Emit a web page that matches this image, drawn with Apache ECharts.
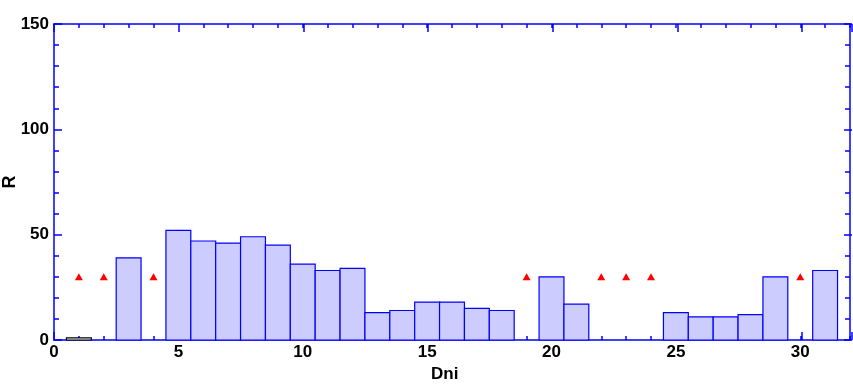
<!DOCTYPE html>
<html>
<head>
<meta charset="utf-8">
<script src="https://cdn.jsdelivr.net/npm/echarts@6/dist/echarts.min.js"></script>
<style>html,body{margin:0;padding:0;background:#fff}#c{width:853px;height:385px}</style>
</head>
<body>
<div id="c"></div>
<script>
// Data
var barX = [3, 5, 6, 7, 8, 9, 10, 11, 12, 13, 14, 15, 16, 17, 18, 20, 21, 25, 26, 27, 28, 29, 31];
var barY = [39, 52, 47, 46, 49, 45, 36, 33, 34, 13, 14, 18, 18, 15, 14, 30, 17, 13, 11, 11, 12, 30, 33];
var outlineX = [1];
var outlineY = [1];
var triX = [1, 2, 4, 19, 22, 23, 24, 30];
var triY = [30, 30, 30, 30, 30, 30, 30, 30];
var xTickLabels = [0, 5, 10, 15, 20, 25, 30];
var yTickLabels = [0, 50, 100, 150];

var BLUE = '#0000ff';
var FONT = 'Liberation Sans, Arial, sans-serif';
var FS = 17;

function pairs(xs, ys) { return xs.map(function (x, i) { return [x, ys[i]]; }); }

function barRender(fill, stroke) {
  return function (params, api) {
    var x = api.value(0), y = api.value(1);
    var p0 = api.coord([x - 0.5, 0]);
    var p1 = api.coord([x + 0.5, y]);
    return {
      type: 'rect',
      shape: { x: p0[0], y: p1[1], width: p1[0] - p0[0], height: p0[1] - p1[1] },
      style: { fill: fill, stroke: stroke, lineWidth: 1.2 }
    };
  };
}

function ax(type, gi, pos, interval, len, showLabel, showLine) {
  var isX = type === 'x';
  var labels = isX ? xTickLabels : yTickLabels;
  return {
    type: 'value', gridIndex: gi, position: pos, min: 0, max: isX ? 32 : 150, interval: interval,
    axisLine: { show: showLine, onZero: false, lineStyle: { color: BLUE, width: 1.5 } },
    axisTick: { show: true, inside: true, length: len, lineStyle: { color: BLUE, width: 1.5 } },
    axisLabel: {
      show: showLabel, margin: isX ? 4 : 5, color: '#000', fontFamily: FONT, fontWeight: 'bold', fontSize: FS,
      formatter: function (v) { return labels.indexOf(v) >= 0 ? String(v) : ''; }
    },
    splitLine: { show: false }
  };
}

var G = { left: 54, right: 1, top: 24, bottom: 45 };
var chart = echarts.init(document.getElementById('c'), null, { renderer: 'canvas' });
chart.setOption({
  animation: false,
  backgroundColor: '#fff',
  grid: [G, G],
  xAxis: [
    ax('x', 0, 'bottom', 1, 4, true, true),
    ax('x', 0, 'top', 1, 4, false, true),
    ax('x', 1, 'bottom', 5, 8, false, false),
    ax('x', 1, 'top', 5, 8, false, false)
  ],
  yAxis: [
    ax('y', 0, 'left', 10, 5, true, true),
    ax('y', 0, 'right', 10, 5, false, true),
    ax('y', 1, 'left', 50, 8, false, false),
    ax('y', 1, 'right', 50, 8, false, false)
  ],
  graphic: [
    { type: 'text', left: 431, top: 366, style: { text: 'Dni', fill: '#000', font: 'bold ' + FS + 'px ' + FONT } },
    { type: 'text', x: 10, y: 182, rotation: Math.PI / 2, style: { text: 'R', fill: '#000', font: 'bold 18px ' + FONT, align: 'center', verticalAlign: 'middle' } }
  ],
  series: [
    {
      type: 'custom', xAxisIndex: 0, yAxisIndex: 0, z: 3,
      renderItem: barRender('#ccccff', BLUE),
      data: pairs(barX, barY)
    },
    {
      type: 'custom', xAxisIndex: 0, yAxisIndex: 0, z: 3,
      renderItem: barRender('#ffffff', '#000000'),
      data: pairs(outlineX, outlineY)
    },
    {
      type: 'scatter', xAxisIndex: 0, yAxisIndex: 0, z: 4,
      symbol: 'triangle', symbolSize: [8, 7],
      itemStyle: { color: '#ff0000', opacity: 1 },
      data: pairs(triX, triY)
    }
  ]
});
</script>
</body>
</html>
